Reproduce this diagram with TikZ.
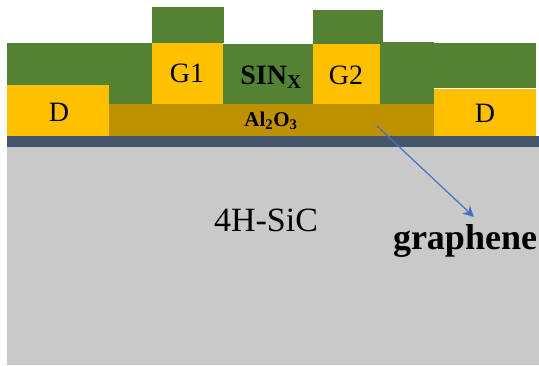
\documentclass[tikz,border=0pt]{standalone}
\usepackage{fontspec}
\usetikzlibrary{arrows.meta}
\setmainfont{Liberation Serif}
\definecolor{sinx}{HTML}{548235}
\definecolor{gold}{HTML}{FFC000}
\definecolor{oxide}{HTML}{BF9000}
\definecolor{slate}{HTML}{44546A}
\definecolor{sic}{HTML}{C9C9C9}
\definecolor{arrowblue}{HTML}{4472C4}
\tikzset{x=1pt,y=-1pt,
  label/.style={inner sep=0pt,text=black,font=\fontsize{28}{28}\selectfont}}
\begin{document}
\begin{tikzpicture}
  \useasboundingbox (0,0) rectangle (539,366);
  \fill[sic] (7,147) rectangle (539,365);
  \fill[slate] (7,136) rectangle (539,147);
  \fill[sinx] (7,43) rectangle (152,104);
  \fill[sinx] (152,7) rectangle (224,43);
  \fill[sinx] (223,44) rectangle (313,104);
  \fill[sinx] (313,10) rectangle (383,44);
  \fill[sinx] (380,42) rectangle (434,104);
  \fill[sinx] (434,43) rectangle (536,88);
  \fill[oxide] (109,104) rectangle (434,136);
  \fill[gold] (7,85) rectangle (109,136);
  \fill[gold] (434,89) rectangle (536,136);
  \fill[gold] (152,43) rectangle (223,104);
  \fill[gold] (313,44) rectangle (380,104);
  \node[label] (dleft) at (59,112) {D};
  \node[label] (dright) at (485,113) {D};
  \node[label] (gone) at (187,73) {G1};
  \node[label] (gtwo) at (346,75) {G2};
  \node[label,font=\bfseries\fontsize{28}{28}\selectfont] (nitride) at (271,77) {SIN\textsubscript{X}};
  \node[label,font=\bfseries\fontsize{21}{21}\selectfont] (alumina) at (271,121) {Al\textsubscript{2}O\textsubscript{3}};
  \node[label,font=\fontsize{34}{34}\selectfont] (substrate) at (266,220) {4H-SiC};
  \node[label,font=\bfseries\fontsize{36}{36}\selectfont] (graphene) at (465,241) {graphene};
  \coordinate (start) at (377,126);
  \coordinate (tip) at (474,217);
  \path[-{Stealth[length=11pt,width=11pt]},arrowblue,line width=1.2pt]
    (start) edge (tip);
\end{tikzpicture}
\end{document}
